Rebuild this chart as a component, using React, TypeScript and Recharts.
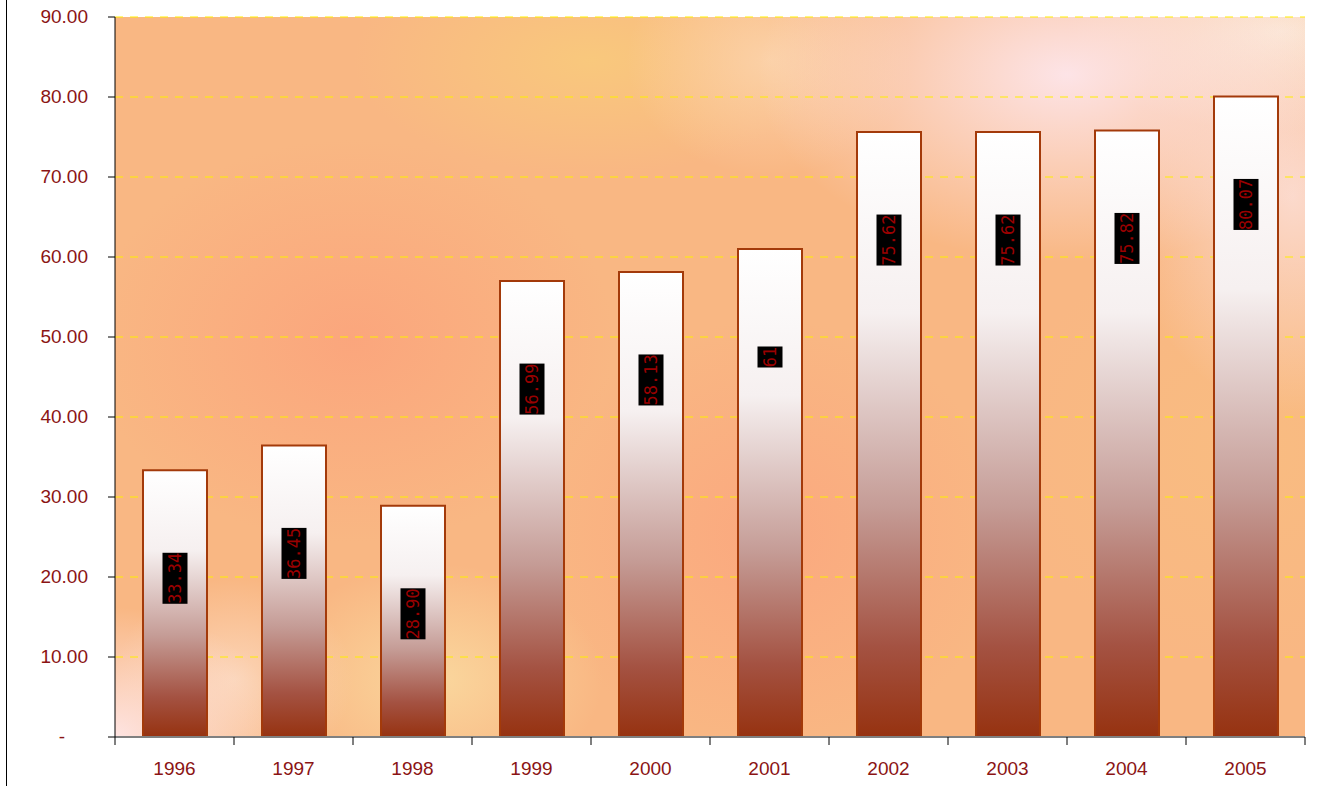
import { BarChart, Bar, XAxis, YAxis, CartesianGrid, LabelList } from 'recharts'

const years = ['1996', '1997', '1998', '1999', '2000', '2001', '2002', '2003', '2004', '2005']
const values = [33.34, 36.45, 28.9, 56.99, 58.13, 61.0, 75.62, 75.62, 75.82, 80.07]
const labels = ['33.34', '36.45', '28.90', '56.99', '58.13', '61', '75.62', '75.62', '75.82', '80.07']
const yTicks = [0, 10, 20, 30, 40, 50, 60, 70, 80, 90]

const data = years.map((year, i) => ({ year, value: values[i], label: labels[i] }))

const W = 1325
const H = 786
const PLOT_LEFT = 115
const PLOT_TOP = 17
const PLOT_RIGHT = 20
const X_AXIS_H = 49
const PLOT_W = W - PLOT_LEFT - PLOT_RIGHT
const BAND = PLOT_W / years.length
const TEXT_RED = '#8B1414'
const FONT = '"Liberation Sans", Arial, sans-serif'

function YTick({ x, y, payload }: { x?: number; y?: number; payload?: { value: number } }) {
  const v = payload?.value ?? 0
  return (
    <text
      x={v === 0 ? (x ?? 0) - 41 : (x ?? 0) - 18}
      y={y}
      dy={6}
      textAnchor="end"
      fill={TEXT_RED}
      fontSize={19}
      fontFamily={FONT}
    >
      {v === 0 ? '-' : v.toFixed(2)}
    </text>
  )
}

function XTick({ x, y, payload, index }: { x?: number; y?: number; payload?: { value: string }; index?: number }) {
  const cx = x ?? 0
  const top = (y ?? 0) - 8
  const last = index === years.length - 1
  return (
    <g>
      <line x1={cx - BAND / 2} x2={cx - BAND / 2} y1={top} y2={top + 8} stroke="#000" strokeWidth={1} />
      {last && <line x1={cx + BAND / 2} x2={cx + BAND / 2} y1={top} y2={top + 8} stroke="#000" strokeWidth={1} />}
      <text x={cx} y={top + 38} textAnchor="middle" fill={TEXT_RED} fontSize={19} fontFamily={FONT}>
        {payload?.value}
      </text>
    </g>
  )
}

function ValueLabel(props: any) {
  const { x, y, width, value } = props
  const text = String(value)
  const cx = x + width / 2
  const cy = y + 108
  const h = text.length * 10 + 1
  return (
    <g>
      <rect x={cx - 12.5} y={cy - h / 2} width={25} height={h} fill="#000" />
      <text
        x={cx}
        y={cy}
        transform={`rotate(-90 ${cx} ${cy})`}
        textAnchor="middle"
        dominantBaseline="central"
        fill="#9A0000"
        fontSize={17}
        fontFamily='"DejaVu Sans Mono", "Liberation Mono", monospace'
      >
        {text}
      </text>
    </g>
  )
}

export default function App() {
  return (
    <div style={{ position: 'absolute', left: 0, top: 0, width: W, height: H, background: '#fff' }}>
      <div style={{ position: 'absolute', left: 6, top: 0, width: 1, height: H, background: '#000' }} />
      <div
        style={{
          position: 'absolute',
          left: PLOT_LEFT,
          top: PLOT_TOP,
          width: PLOT_W,
          height: H - PLOT_TOP - X_AXIS_H,
          background: [
            'radial-gradient(ellipse 26% 26% at 80% 8%, rgba(253,230,236,0.95), rgba(253,230,236,0) 100%)',
            'radial-gradient(ellipse 14% 30% at 99% 25%, rgba(252,226,222,0.8), rgba(252,226,222,0) 100%)',
            'radial-gradient(ellipse 18% 14% at 98% 2%, rgba(251,236,214,0.9), rgba(251,236,214,0) 100%)',
            'radial-gradient(ellipse 12% 16% at 55% 6%, rgba(252,214,176,0.8), rgba(252,214,176,0) 100%)',
            'radial-gradient(ellipse 14% 18% at 0% 100%, rgba(254,228,226,1), rgba(254,228,226,0) 100%)',
            'radial-gradient(ellipse 10% 14% at 10% 92%, rgba(252,220,196,0.8), rgba(252,220,196,0) 100%)',
            'radial-gradient(ellipse 14% 16% at 27% 92%, rgba(250,218,160,0.9), rgba(250,218,160,0) 100%)',
            'radial-gradient(ellipse 20% 16% at 40% 6%, rgba(249,202,124,0.9), rgba(249,202,124,0) 100%)',
            'radial-gradient(ellipse 22% 28% at 20% 45%, rgba(251,164,124,0.9), rgba(251,164,124,0) 100%)',
            'radial-gradient(ellipse 20% 30% at 55% 72%, rgba(251,166,126,0.85), rgba(251,166,126,0) 100%)',
            'radial-gradient(ellipse 20% 30% at 95% 60%, rgba(249,190,128,0.7), rgba(249,190,128,0) 100%)',
            '#F9B783',
          ].join(', '),
        }}
      />
      <div style={{ position: 'absolute', left: 0, top: 0 }}>
        <BarChart
          width={W}
          height={H}
          data={data}
          margin={{ top: PLOT_TOP, right: PLOT_RIGHT, left: 0, bottom: 0 }}
          barCategoryGap={0}
        >
          <defs>
            <linearGradient id="barFill" x1="0" y1="0" x2="0" y2="1">
              <stop offset="0%" stopColor="#FFFFFF" />
              <stop offset="30%" stopColor="#F6F0F0" />
              <stop offset="62%" stopColor="#C59C96" />
              <stop offset="85%" stopColor="#A45242" />
              <stop offset="100%" stopColor="#963210" />
            </linearGradient>
          </defs>
          <CartesianGrid vertical={false} stroke="#FFEE00" strokeDasharray="8 7" />
          <XAxis
            dataKey="year"
            height={X_AXIS_H}
            axisLine={{ stroke: '#808080', strokeWidth: 2 }}
            tickLine={false}
            tick={<XTick />}
            interval={0}
          />
          <YAxis
            domain={[0, 90]}
            ticks={yTicks}
            width={PLOT_LEFT}
            axisLine={{ stroke: '#000' }}
            tickLine={{ stroke: '#000' }}
            tickSize={7}
            tick={<YTick />}
            interval={0}
          />
          <Bar dataKey="value" barSize={64} fill="url(#barFill)" stroke="#A33A0A" strokeWidth={2} isAnimationActive={false}>
            <LabelList dataKey="label" content={<ValueLabel />} />
          </Bar>
        </BarChart>
      </div>
    </div>
  )
}
